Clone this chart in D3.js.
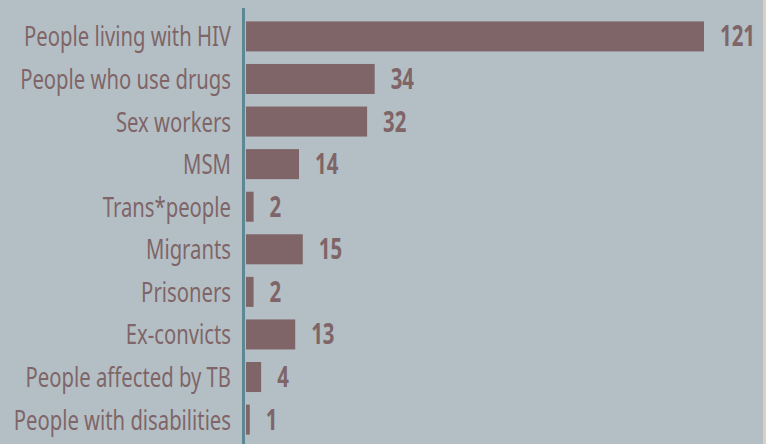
<!DOCTYPE html>
<html><head><meta charset="utf-8">
<script src="https://cdn.jsdelivr.net/npm/d3@7/dist/d3.min.js"></script>
<style>
html,body{margin:0;padding:0;background:#b4bfc5;overflow:hidden}
svg{display:block}
.lbl{font-family:"Noto Sans","Open Sans",sans-serif;fill:#7f6567}
.val{font-family:"Noto Sans","Open Sans",sans-serif;font-weight:bold;fill:#7f6567}
</style></head>
<body><svg id="c" width="766" height="444"></svg>
<script>
const categories = ["People living with HIV","People who use drugs","Sex workers","MSM","Trans*people","Migrants","Prisoners","Ex-convicts","People affected by TB","People with disabilities"];
const values = [121,34,32,14,2,15,2,13,4,1];

const W=766,H=444;
const svg=d3.select("#c");
svg.append("rect").attr("width",W).attr("height",H).attr("fill","#b4bfc5");
svg.append("rect").attr("x",763).attr("width",3).attr("height",H).attr("fill","#d8cfc5");

const x=d3.scaleLinear().domain([0,121]).range([246,704]);
const y=d3.scaleBand().domain(categories).range([15,441]).paddingInner(0.295).paddingOuter(0.15);

const data=categories.map((c,i)=>({c,v:values[i]}));

svg.selectAll("rect.bar").data(data).join("rect").attr("class","bar")
  .attr("x",x(0)).attr("y",d=>y(d.c)).attr("width",d=>x(d.v)-x(0)).attr("height",y.bandwidth())
  .attr("fill","#7f6567");

svg.append("line").attr("x1",243.5).attr("x2",243.5).attr("y1",8).attr("y2",H)
  .attr("stroke","#5b8893").attr("stroke-width",3);

const fs=28;
const lbl=svg.selectAll("text.lbl").data(data).join("text").attr("class","lbl")
  .attr("text-anchor","end").attr("font-size",fs).text(d=>d.c);
const s1=207/lbl.node().getComputedTextLength();
lbl.attr("transform",d=>`translate(231,${y(d.c)+y.bandwidth()/2+10}) scale(${s1},1)`);

const val=svg.selectAll("text.val").data(data).join("text").attr("class","val")
  .attr("font-size",fs).text(d=>d.v);
const s2=35/val.node().getComputedTextLength();
val.attr("transform",d=>`translate(${x(d.v)+16},${y(d.c)+y.bandwidth()/2+10}) scale(${s2},1)`);
</script></body></html>
